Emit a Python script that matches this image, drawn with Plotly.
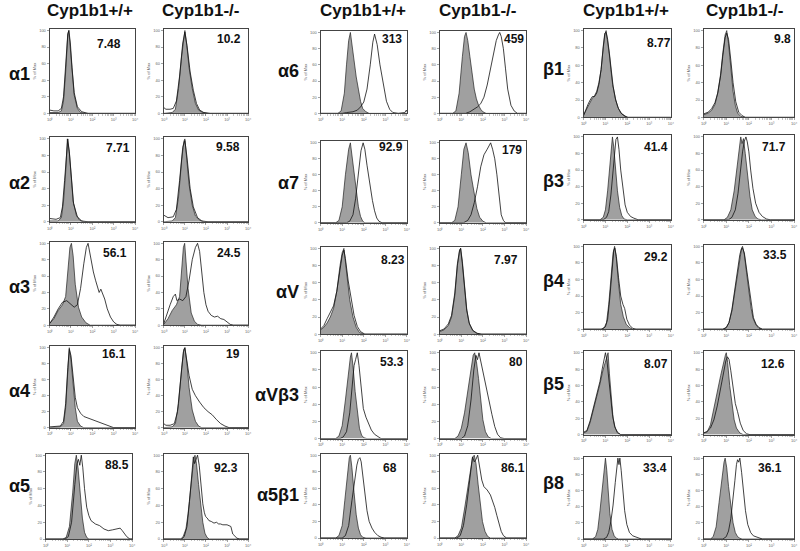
import plotly.graph_objects as go

W, H = 800, 551

# ---------------- text ----------------
HEADERS = ["Cyp1b1+/+", "Cyp1b1-/-"]
ROWS_G1 = ["α1", "α2", "α3", "α4", "α5"]
ROWS_G2 = ["α6", "α7", "αV", "αVβ3", "α5β1"]
ROWS_G3 = ["β1", "β3", "β4", "β5", "β8"]
VAL_G1_WT = ["7.48", "7.71", "56.1", "16.1", "88.5"]
VAL_G1_KO = ["10.2", "9.58", "24.5", "19", "92.3"]
VAL_G2_WT = ["313", "92.9", "8.23", "53.3", "68"]
VAL_G2_KO = ["459", "179", "7.97", "80", "86.1"]
VAL_G3_WT = ["8.77", "41.4", "29.2", "8.07", "33.4"]
VAL_G3_KO = ["9.8", "71.7", "33.5", "12.6", "36.1"]
X_TICK_VALS = [1, 10, 100, 1000, 10000]
X_TICK_TEXT = ["10⁰", "10¹", "10²", "10³", "10⁴"]
Y_TICKS = [0, 20, 40, 60, 80, 100]

# ---------------- histograms: (log10 fluorescence, % of max) ----------------
# Group 1
A1_WT_ISO = [(0,1),(0.4,1),(0.55,3),(0.65,15),(0.75,50),(0.85,95),(0.9,100),(0.97,80),(1.05,50),(1.15,22),(1.3,6),(1.45,1),(1.7,0),(4,0)]
A1_WT_AB = [(0,4),(0.2,3),(0.4,3),(0.55,6),(0.65,20),(0.75,55),(0.85,96),(0.9,100),(0.97,85),(1.05,55),(1.15,25),(1.3,8),(1.5,2),(1.8,0),(4,0)]
A1_KO_ISO = [(0,0),(0.4,1),(0.55,5),(0.7,30),(0.85,70),(0.95,95),(1.0,100),(1.1,80),(1.2,55),(1.35,30),(1.5,12),(1.65,4),(1.85,1),(2.1,0),(4,0)]
A1_KO_AB = [(0,7),(0.1,5),(0.3,5),(0.45,6),(0.6,15),(0.75,45),(0.9,85),(1.0,98),(1.1,82),(1.25,50),(1.4,28),(1.55,12),(1.7,4),(1.9,1),(2.2,0),(4,0)]
A2_WT_ISO = [(0,1),(0.4,1),(0.55,5),(0.65,25),(0.75,60),(0.83,100),(0.92,85),(1.0,55),(1.1,25),(1.25,8),(1.4,2),(1.6,0),(4,0)]
A2_WT_AB = [(0,4),(0.3,3),(0.5,5),(0.6,18),(0.7,50),(0.8,92),(0.85,100),(0.93,82),(1.02,50),(1.12,22),(1.3,6),(1.5,1),(1.8,0),(4,0)]
A2_KO_ISO = [(0,0),(0.4,1),(0.55,5),(0.7,30),(0.85,75),(0.95,97),(1.0,100),(1.1,75),(1.2,45),(1.35,20),(1.5,7),(1.7,2),(1.9,0),(4,0)]
A2_KO_AB = [(0,8),(0.2,5),(0.45,6),(0.6,15),(0.75,50),(0.9,90),(1.0,98),(1.1,78),(1.25,40),(1.4,18),(1.6,5),(1.8,1),(2.1,0),(4,0)]
A3_WT_ISO = [(0,2),(0.2,8),(0.4,18),(0.6,25),(0.75,35),(0.85,65),(0.95,95),(1.02,100),(1.1,85),(1.2,50),(1.35,22),(1.5,10),(1.7,3),(1.9,0),(4,0)]
A3_WT_AB = [(0,2),(0.2,10),(0.4,20),(0.6,28),(0.8,30),(1.0,26),(1.15,22),(1.3,25),(1.45,45),(1.6,75),(1.72,95),(1.8,100),(1.88,88),(1.95,75),(2.05,65),(2.15,55),(2.25,45),(2.32,40),(2.4,44),(2.48,38),(2.58,32),(2.7,20),(2.85,10),(3.0,4),(3.15,1),(3.3,0),(4,0)]
A3_KO_ISO = [(0,1),(0.2,8),(0.4,18),(0.6,25),(0.75,35),(0.85,65),(0.93,95),(0.99,100),(1.05,80),(1.15,45),(1.3,15),(1.45,5),(1.6,1),(1.8,0),(4,0)]
A3_KO_AB = [(0,2),(0.15,15),(0.3,25),(0.45,35),(0.55,38),(0.62,30),(0.75,32),(0.9,30),(1.05,35),(1.2,55),(1.35,80),(1.5,95),(1.6,100),(1.7,90),(1.8,65),(1.9,40),(2.0,25),(2.1,17),(2.25,12),(2.4,10),(2.55,11),(2.7,8),(2.85,7),(3.0,4),(3.15,1),(3.3,0),(4,0)]
A4_WT_ISO = [(0,0),(0.5,1),(0.65,5),(0.75,25),(0.85,70),(0.92,100),(1.0,85),(1.1,55),(1.2,25),(1.3,8),(1.45,2),(1.6,0),(4,0)]
A4_WT_AB = [(0,1),(0.5,2),(0.65,8),(0.75,30),(0.85,75),(0.92,98),(1.0,90),(1.1,62),(1.2,38),(1.3,25),(1.45,18),(1.6,14),(1.8,12),(2.0,10),(2.2,8),(2.4,6),(2.6,4),(2.8,2),(3.0,0),(4,0)]
A4_KO_ISO = [(0,0),(0.4,1),(0.55,5),(0.7,30),(0.85,75),(0.95,98),(1.0,100),(1.1,80),(1.2,50),(1.35,22),(1.5,8),(1.65,2),(1.8,0),(4,0)]
A4_KO_AB = [(0,5),(0.1,3),(0.3,3),(0.5,5),(0.65,20),(0.8,60),(0.93,95),(1.0,100),(1.1,85),(1.2,65),(1.35,48),(1.5,40),(1.7,32),(1.9,25),(2.1,20),(2.3,16),(2.5,10),(2.7,5),(2.9,2),(3.1,0),(4,0)]
A5_WT_ISO = [(0,0),(0.8,0),(0.95,2),(1.1,15),(1.25,55),(1.35,90),(1.42,100),(1.5,85),(1.6,55),(1.7,25),(1.8,8),(1.9,2),(2.0,0),(4,0)]
A5_WT_AB = [(0,0),(0.9,0),(1.05,3),(1.2,20),(1.35,65),(1.45,90),(1.52,95),(1.58,88),(1.65,100),(1.72,85),(1.8,60),(1.9,38),(2.0,28),(2.1,22),(2.3,18),(2.5,16),(2.7,12),(2.9,10),(3.1,11),(3.3,12),(3.45,13),(3.55,10),(3.65,6),(3.75,3),(3.9,0),(4,0)]
A5_KO_ISO = [(0,0),(0.8,0),(0.92,3),(1.05,12),(1.15,30),(1.25,55),(1.35,80),(1.42,95),(1.48,100),(1.55,90),(1.65,65),(1.75,40),(1.85,20),(1.95,7),(2.05,2),(2.15,0),(4,0)]
A5_KO_AB = [(0,0),(0.85,0),(0.97,3),(1.1,15),(1.22,45),(1.32,80),(1.4,98),(1.46,90),(1.53,95),(1.6,100),(1.68,88),(1.76,65),(1.85,42),(1.92,32),(1.98,27),(2.06,25),(2.14,22),(2.25,21),(2.38,19),(2.5,20),(2.6,18),(2.69,18),(2.8,17),(3.0,17),(3.1,16),(3.18,15),(3.27,6),(3.37,3),(3.47,1),(3.6,0),(4,0)]
# Group 2
A6_WT_ISO = [(0,0),(0.8,0),(0.95,3),(1.1,25),(1.2,60),(1.3,90),(1.38,100),(1.45,85),(1.55,65),(1.65,45),(1.75,30),(1.85,15),(1.95,6),(2.1,2),(2.25,0),(4,0)]
A6_WT_AB = [(0,0),(1.0,0),(1.2,1),(1.5,2),(1.7,4),(1.85,8),(2.0,14),(2.15,30),(2.3,60),(2.42,88),(2.5,98),(2.55,93),(2.62,85),(2.75,60),(2.9,35),(3.05,15),(3.2,5),(3.35,1),(3.6,0),(3.9,1),(3.97,4),(4,2)]
A6_KO_ISO = [(0,0),(0.6,0),(0.75,3),(0.9,25),(1.05,70),(1.15,95),(1.22,100),(1.3,90),(1.4,70),(1.5,48),(1.6,30),(1.7,18),(1.8,10),(1.9,5),(2.0,2),(2.15,0),(4,0)]
A6_KO_AB = [(0,0),(1.2,0),(1.4,2),(1.6,5),(1.75,8),(1.9,12),(2.05,20),(2.2,35),(2.35,55),(2.5,75),(2.62,90),(2.72,97),(2.78,100),(2.85,95),(2.95,80),(3.05,55),(3.15,30),(3.3,10),(3.45,3),(3.6,0),(4,0)]
A7_WT_ISO = [(0,0),(0.7,0),(0.85,3),(1.0,20),(1.15,60),(1.3,92),(1.38,100),(1.45,85),(1.55,60),(1.65,38),(1.75,20),(1.85,8),(1.95,2),(2.05,0),(4,0)]
A7_WT_AB = [(0,0),(1.2,0),(1.35,2),(1.5,10),(1.62,30),(1.75,65),(1.87,90),(1.97,100),(2.05,92),(2.15,72),(2.28,48),(2.4,28),(2.5,15),(2.6,6),(2.7,2),(2.85,0),(4,0)]
A7_KO_ISO = [(0,0),(0.55,0),(0.7,3),(0.85,20),(1.0,60),(1.12,92),(1.22,100),(1.32,88),(1.45,60),(1.6,35),(1.72,18),(1.85,7),(2.0,2),(2.15,0),(4,0)]
A7_KO_AB = [(0,0),(1.1,0),(1.3,3),(1.45,10),(1.6,25),(1.75,45),(1.9,70),(2.05,85),(2.2,92),(2.3,97),(2.36,100),(2.45,92),(2.55,80),(2.65,60),(2.75,30),(2.85,10),(2.95,3),(3.05,0),(4,0)]
AV_WT_ISO = [(0,5),(0.15,8),(0.3,13),(0.45,20),(0.6,30),(0.75,50),(0.9,80),(1.0,95),(1.08,100),(1.15,85),(1.25,60),(1.35,40),(1.5,20),(1.65,8),(1.8,2),(2.0,0),(4,0)]
AV_WT_AB = [(0,6),(0.15,10),(0.3,18),(0.45,25),(0.6,33),(0.75,50),(0.9,78),(1.0,92),(1.08,98),(1.15,88),(1.28,62),(1.4,42),(1.55,22),(1.7,9),(1.85,3),(2.05,0),(4,0)]
AV_KO_ISO = [(0,3),(0.2,5),(0.4,10),(0.55,20),(0.7,45),(0.82,80),(0.92,97),(0.97,100),(1.05,85),(1.15,55),(1.25,30),(1.35,14),(1.5,5),(1.7,1),(1.9,0),(4,0)]
AV_KO_AB = [(0,4),(0.2,6),(0.4,12),(0.55,22),(0.7,48),(0.82,82),(0.92,98),(0.97,100),(1.05,82),(1.15,52),(1.25,28),(1.38,12),(1.55,4),(1.75,1),(1.95,0),(4,0)]
AVB3_WT_ISO = [(0,0),(0.7,0),(0.85,3),(1.0,15),(1.15,45),(1.3,80),(1.38,95),(1.43,100),(1.5,85),(1.6,55),(1.7,30),(1.8,12),(1.9,4),(2.0,1),(2.15,0),(4,0)]
AVB3_WT_AB = [(0,0),(0.9,0),(1.05,2),(1.2,8),(1.35,30),(1.45,60),(1.55,85),(1.62,92),(1.7,100),(1.78,85),(1.88,55),(1.98,35),(2.1,25),(2.22,17),(2.35,10),(2.5,5),(2.65,2),(2.8,0),(4,0)]
AVB3_KO_ISO = [(0,0),(0.7,0),(0.85,3),(1.0,12),(1.15,30),(1.3,55),(1.45,85),(1.55,97),(1.62,100),(1.7,90),(1.8,70),(1.9,45),(2.0,22),(2.12,8),(2.25,2),(2.4,0),(4,0)]
AVB3_KO_AB = [(0,0),(1.0,0),(1.15,3),(1.3,15),(1.45,45),(1.58,80),(1.68,97),(1.75,92),(1.82,100),(1.9,90),(2.0,78),(2.1,65),(2.2,55),(2.3,42),(2.42,28),(2.55,14),(2.68,5),(2.82,1),(3.0,0),(4,0)]
A5B1_WT_ISO = [(0,0),(0.7,0),(0.85,3),(1.0,15),(1.12,45),(1.25,80),(1.33,97),(1.38,100),(1.45,85),(1.55,55),(1.65,28),(1.75,12),(1.85,4),(1.95,1),(2.1,0),(4,0)]
A5B1_WT_AB = [(0,0),(1.0,0),(1.15,3),(1.3,15),(1.45,45),(1.58,72),(1.68,88),(1.75,95),(1.82,97),(1.88,92),(1.95,78),(2.05,55),(2.15,33),(2.25,20),(2.38,12),(2.5,7),(2.65,3),(2.8,1),(2.95,0),(4,0)]
A5B1_KO_ISO = [(0,0),(0.7,0),(0.85,3),(1.0,12),(1.15,35),(1.3,60),(1.42,82),(1.52,97),(1.6,100),(1.68,90),(1.78,65),(1.88,40),(1.98,20),(2.1,8),(2.22,2),(2.35,0),(4,0)]
A5B1_KO_AB = [(0,0),(0.8,0),(0.95,3),(1.1,15),(1.25,40),(1.4,75),(1.52,98),(1.6,92),(1.68,95),(1.76,100),(1.85,85),(1.95,70),(2.05,62),(2.2,58),(2.35,52),(2.45,45),(2.55,37),(2.65,27),(2.75,17),(2.85,8),(2.95,3),(3.1,0),(4,0)]
# Group 3
B1_WT_ISO = [(0,3),(0.1,8),(0.2,12),(0.3,18),(0.4,22),(0.5,25),(0.6,30),(0.7,40),(0.8,55),(0.9,80),(0.97,95),(1.03,100),(1.1,88),(1.18,72),(1.25,55),(1.33,38),(1.45,22),(1.56,12),(1.7,5),(1.85,2),(2.0,0),(4,0)]
B1_WT_AB = [(0,2),(0.1,9),(0.2,15),(0.3,20),(0.4,24),(0.5,24),(0.6,28),(0.7,38),(0.8,55),(0.9,82),(0.97,97),(1.03,98),(1.1,90),(1.18,74),(1.26,54),(1.35,36),(1.47,20),(1.6,10),(1.75,4),(1.9,1),(2.05,0),(4,0)]
B1_KO_ISO = [(0,3),(0.2,5),(0.35,8),(0.5,15),(0.62,28),(0.75,50),(0.85,75),(0.95,95),(1.02,100),(1.1,85),(1.2,58),(1.3,30),(1.4,14),(1.5,5),(1.65,1),(1.8,0),(4,0)]
B1_KO_AB = [(0,4),(0.2,6),(0.35,10),(0.5,17),(0.62,28),(0.75,48),(0.85,72),(0.95,92),(1.02,97),(1.1,90),(1.2,66),(1.3,40),(1.42,18),(1.55,6),(1.7,2),(1.85,0),(4,0)]
B3_WT_ISO = [(0,0),(0.75,0),(0.9,3),(1.0,12),(1.1,35),(1.2,70),(1.28,95),(1.32,100),(1.38,88),(1.45,65),(1.55,35),(1.65,15),(1.75,5),(1.85,1),(2.0,0),(4,0)]
B3_WT_AB = [(0,0),(0.9,0),(1.05,3),(1.15,10),(1.25,30),(1.35,60),(1.42,82),(1.48,97),(1.55,100),(1.62,85),(1.7,60),(1.8,35),(1.9,18),(2.0,9),(2.15,4),(2.3,2),(2.5,0),(4,0)]
B3_KO_ISO = [(0,0),(0.9,0),(1.05,3),(1.2,12),(1.35,35),(1.48,65),(1.58,90),(1.64,100),(1.7,92),(1.76,98),(1.84,80),(1.95,50),(2.05,28),(2.15,12),(2.28,4),(2.4,1),(2.55,0),(4,0)]
B3_KO_AB = [(0,0),(1.1,0),(1.25,3),(1.4,12),(1.52,32),(1.62,58),(1.72,82),(1.8,95),(1.87,100),(1.93,94),(2.0,82),(2.08,60),(2.18,38),(2.3,20),(2.45,9),(2.6,4),(2.78,1),(2.95,0),(4,0)]
B4_WT_ISO = [(0,0),(0.8,0),(0.95,2),(1.05,8),(1.15,30),(1.25,65),(1.35,92),(1.42,100),(1.5,85),(1.6,55),(1.7,30),(1.82,15),(1.95,6),(2.1,2),(2.25,0),(4,0)]
B4_WT_AB = [(0,0),(0.85,0),(1.0,3),(1.1,12),(1.2,38),(1.3,72),(1.38,95),(1.43,98),(1.5,88),(1.6,62),(1.7,40),(1.8,30),(1.88,25),(1.98,12),(2.1,5),(2.25,1),(2.4,0),(4,0)]
B4_KO_ISO = [(0,0),(0.85,0),(1.0,2),(1.12,8),(1.25,22),(1.38,45),(1.5,70),(1.6,88),(1.68,98),(1.72,100),(1.8,90),(1.9,68),(2.0,45),(2.1,25),(2.2,12),(2.32,5),(2.45,1),(2.6,0),(4,0)]
B4_KO_AB = [(0,0),(0.85,0),(1.0,2),(1.12,8),(1.25,24),(1.38,48),(1.5,72),(1.6,90),(1.67,97),(1.72,98),(1.8,92),(1.9,72),(2.0,48),(2.1,28),(2.2,14),(2.32,6),(2.45,2),(2.6,0),(4,0)]
B5_WT_ISO = [(0,2),(0.15,4),(0.3,15),(0.45,30),(0.6,45),(0.75,62),(0.88,78),(0.98,88),(1.05,95),(1.12,100),(1.18,75),(1.25,50),(1.35,20),(1.45,8),(1.55,2),(1.7,0),(4,0)]
B5_WT_AB = [(0,3),(0.15,5),(0.3,17),(0.45,33),(0.6,48),(0.75,65),(0.85,80),(0.95,92),(1.0,100),(1.07,90),(1.15,70),(1.22,52),(1.32,25),(1.42,10),(1.55,3),(1.7,0),(4,0)]
B5_KO_ISO = [(0,2),(0.15,3),(0.3,12),(0.45,30),(0.6,52),(0.75,72),(0.88,90),(0.96,97),(1.0,100),(1.06,88),(1.15,60),(1.25,35),(1.35,18),(1.45,8),(1.6,2),(1.75,0),(4,0)]
B5_KO_AB = [(0,2),(0.15,4),(0.3,8),(0.45,18),(0.6,35),(0.75,58),(0.88,78),(0.98,90),(1.05,95),(1.12,92),(1.2,78),(1.3,55),(1.4,38),(1.5,28),(1.62,14),(1.75,5),(1.9,1),(2.05,0),(4,0)]
B8_WT_ISO = [(0,0),(0.4,0),(0.55,3),(0.65,12),(0.75,35),(0.85,65),(0.93,88),(1.0,100),(1.06,85),(1.13,58),(1.2,32),(1.3,12),(1.4,4),(1.5,1),(1.6,0),(4,0)]
B8_WT_AB = [(0,0),(0.9,0),(1.05,2),(1.15,8),(1.25,22),(1.35,42),(1.45,70),(1.52,90),(1.57,100),(1.62,92),(1.66,100),(1.72,85),(1.8,60),(1.88,35),(1.98,18),(2.1,8),(2.25,4),(2.45,2),(2.65,0),(4,0)]
B8_KO_ISO = [(0,0),(0.3,0),(0.42,3),(0.55,15),(0.68,45),(0.8,75),(0.9,95),(0.95,100),(1.02,88),(1.1,65),(1.2,38),(1.3,20),(1.4,8),(1.5,3),(1.6,1),(1.7,0),(4,0)]
B8_KO_AB = [(0,0),(0.85,0),(1.0,3),(1.1,10),(1.2,25),(1.3,48),(1.38,72),(1.45,92),(1.5,98),(1.55,95),(1.6,100),(1.68,82),(1.76,58),(1.85,35),(1.95,18),(2.08,8),(2.2,4),(2.4,2),(2.6,0),(4,0)]

GROUPS = [
    dict(rows=ROWS_G1, wt=VAL_G1_WT, ko=VAL_G1_KO,
         curves=[(A1_WT_ISO, A1_WT_AB, A1_KO_ISO, A1_KO_AB),
                 (A2_WT_ISO, A2_WT_AB, A2_KO_ISO, A2_KO_AB),
                 (A3_WT_ISO, A3_WT_AB, A3_KO_ISO, A3_KO_AB),
                 (A4_WT_ISO, A4_WT_AB, A4_KO_ISO, A4_KO_AB),
                 (A5_WT_ISO, A5_WT_AB, A5_KO_ISO, A5_KO_AB)]),
    dict(rows=ROWS_G2, wt=VAL_G2_WT, ko=VAL_G2_KO,
         curves=[(A6_WT_ISO, A6_WT_AB, A6_KO_ISO, A6_KO_AB),
                 (A7_WT_ISO, A7_WT_AB, A7_KO_ISO, A7_KO_AB),
                 (AV_WT_ISO, AV_WT_AB, AV_KO_ISO, AV_KO_AB),
                 (AVB3_WT_ISO, AVB3_WT_AB, AVB3_KO_ISO, AVB3_KO_AB),
                 (A5B1_WT_ISO, A5B1_WT_AB, A5B1_KO_ISO, A5B1_KO_AB)]),
    dict(rows=ROWS_G3, wt=VAL_G3_WT, ko=VAL_G3_KO,
         curves=[(B1_WT_ISO, B1_WT_AB, B1_KO_ISO, B1_KO_AB),
                 (B3_WT_ISO, B3_WT_AB, B3_KO_ISO, B3_KO_AB),
                 (B4_WT_ISO, B4_WT_AB, B4_KO_ISO, B4_KO_AB),
                 (B5_WT_ISO, B5_WT_AB, B5_KO_ISO, B5_KO_AB),
                 (B8_WT_ISO, B8_WT_AB, B8_KO_ISO, B8_KO_AB)]),
]

# ---------------- layout (pixel geometry) ----------------
COL_X = [[(47, 133), (162, 247)], [(320, 407), (440, 527)], [(585, 673), (706, 797)]]
COL_X_OVERRIDE = {(0, 4, 0): (43, 130)}  # alpha5 WT panel sits slightly left
ROW_Y = [[(28, 113), (137, 222), (242, 326), (347, 429), (455, 541)],
         [(30, 113), (141, 223), (247, 335), (352, 440), (455, 540)],
         [(28, 117), (135, 220), (245, 330), (352, 436), (458, 541)]]
VAL_POS = [
    [[(107, 43), (228, 38)], [(116, 148), (227, 147)], [(113, 253), (228, 253)], [(112, 355), (232, 355)], [(115, 467), (225, 470)]],
    [[(392, 38), (515, 38)], [(391, 147), (513, 150)], [(393, 260), (507, 260)], [(392, 363), (517, 363)], [(390, 470), (514, 470)]],
    [[(661, 42), (785, 38)], [(658, 147), (777, 147)], [(658, 257), (778, 255)], [(658, 365), (776, 365)], [(657, 470), (773, 470)]],
]
HEADER_X = [(88, 199), (363, 478), (628, 747)]
ROWLAB = [dict(x=4, anchor="left", ys=[73, 183, 288, 392, 488]),
          dict(x=300, anchor="right", ys=[70, 183, 293, 396, 497]),
          dict(x=567, anchor="right", ys=[68, 181, 282, 385, 485])]

FONT = "Liberation Sans, Arial, sans-serif"
FILL = "#a0a0a0"
MINOR = [m * 10 ** k for k in range(4) for m in range(2, 10)]


def px(x):
    return x / W


def py(y):
    return 1 - y / H


fig = go.Figure()
annotations = []
n = 0
for g, grp in enumerate(GROUPS):
    for r in range(5):
        iso_wt, ab_wt, iso_ko, ab_ko = grp["curves"][r]
        for c, (iso, ab, val) in enumerate([(iso_wt, ab_wt, grp["wt"][r]), (iso_ko, ab_ko, grp["ko"][r])]):
            n += 1
            xa = "x" if n == 1 else f"x{n}"
            ya = "y" if n == 1 else f"y{n}"
            fig.add_trace(go.Scatter(
                x=[10 ** d for d, _ in iso], y=[p for _, p in iso],
                mode="lines", fill="tozeroy", fillcolor=FILL,
                line=dict(color="#222222", width=0.7), xaxis=xa, yaxis=ya,
                showlegend=False, hoverinfo="skip"))
            fig.add_trace(go.Scatter(
                x=[10 ** d for d, _ in ab], y=[p for _, p in ab],
                mode="lines", line=dict(color="#111111", width=0.8),
                xaxis=xa, yaxis=ya, showlegend=False, hoverinfo="skip"))
            x0, x1 = COL_X_OVERRIDE.get((g, r, c), COL_X[g][c])
            y0, y1 = ROW_Y[g][r]
            suffix = "" if n == 1 else str(n)
            fig.layout["xaxis" + suffix] = dict(
                type="log", range=[0, 4], domain=[px(x0), px(x1)], anchor=ya,
                showline=True, mirror=True, linecolor="#444", linewidth=1,
                ticks="outside", ticklen=2, tickwidth=0.6, tickcolor="#666",
                tickvals=X_TICK_VALS, ticktext=X_TICK_TEXT,
                tickfont=dict(size=4, color="#666", family=FONT),
                minor=dict(ticks="outside", ticklen=1.2, tickwidth=0.5, tickcolor="#888",
                           tickmode="array", tickvals=MINOR, showgrid=False),
                showgrid=False, zeroline=False, fixedrange=True)
            fig.layout["yaxis" + suffix] = dict(
                range=[0, 102], domain=[py(y1), py(y0)], anchor=xa,
                showline=True, mirror=True, linecolor="#444", linewidth=1,
                ticks="outside", ticklen=2, tickwidth=0.6, tickcolor="#666",
                tickvals=Y_TICKS, tickfont=dict(size=4, color="#666", family=FONT),
                title=dict(text="% of Max", font=dict(size=4, color="#666", family=FONT), standoff=2),
                showgrid=False, zeroline=False, fixedrange=True)
            vx, vy = VAL_POS[g][r][c]
            annotations.append(dict(x=px(vx), y=py(vy), xref="paper", yref="paper",
                                    text=f"<b>{val}</b>", showarrow=False,
                                    xanchor="center", yanchor="middle",
                                    font=dict(size=12, color="#111", family=FONT)))
        rl = ROWLAB[g]
        annotations.append(dict(x=px(rl["x"]), y=py(rl["ys"][r]), xref="paper", yref="paper",
                                text=f"<b>{grp['rows'][r]}</b>", showarrow=False,
                                xanchor=rl["anchor"], yanchor="middle",
                                font=dict(size=18, color="#111", family=FONT)))
    for c in range(2):
        annotations.append(dict(x=px(HEADER_X[g][c]), y=py(10), xref="paper", yref="paper",
                                text=f"<b>{HEADERS[c]}</b>", showarrow=False,
                                xanchor="center", yanchor="middle",
                                font=dict(size=17, color="#111", family=FONT)))

fig.update_layout(width=W, height=H, margin=dict(l=0, r=0, t=0, b=0),
                  paper_bgcolor="white", plot_bgcolor="white",
                  annotations=annotations, showlegend=False)
fig.write_html("out.html", config={"displayModeBar": False, "staticPlot": True},
               post_script="document.body.style.margin='0';document.body.style.overflow='hidden';")
